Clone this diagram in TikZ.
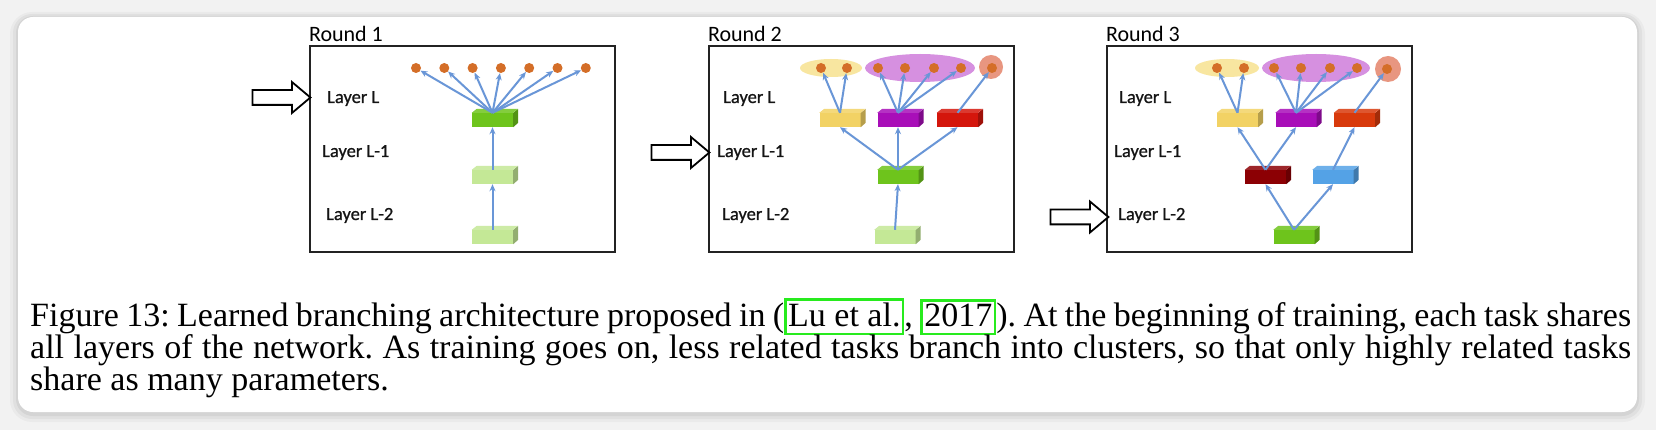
\documentclass[tikz,border=0pt]{standalone}
\usepackage{fontspec}
\setmainfont{Liberation Serif}
\newfontfamily\calib{Carlito}
\newfontfamily\calibl{Carlito}[FakeBold=0.8]
\usetikzlibrary{arrows.meta,positioning,shapes.geometric,shapes.arrows}

\definecolor{bg}{RGB}{242,242,242}
\definecolor{dotc}{RGB}{212,110,40}
\definecolor{edgec}{RGB}{105,150,215}
\definecolor{framec}{RGB}{35,35,35}
\definecolor{laytext}{RGB}{20,20,20}
\definecolor{grn}{RGB}{110,196,28}
\definecolor{lgrn}{RGB}{196,232,150}
\definecolor{ylw}{RGB}{242,210,100}
\definecolor{prp}{RGB}{168,14,184}
\definecolor{redb}{RGB}{212,22,12}
\definecolor{redc}{RGB}{216,58,12}
\definecolor{dred}{RGB}{140,0,4}
\definecolor{blu}{RGB}{84,162,230}
\definecolor{ylwg}{RGB}{248,230,160}
\definecolor{prpg}{RGB}{214,144,224}
\definecolor{salg}{RGB}{232,150,128}
\definecolor{linkg}{RGB}{40,235,30}

% side and top faces of a block node
\newcommand{\cubeface}[2]{%
\fill[#2!75!black] (#1.north east) -- ++(5,-4) -- ++(0,14) -- (#1.south east) -- cycle;
\fill[#2!85!white] (#1.north west) -- ++(5,-4) -- ++(41,0) -- (#1.north east) -- cycle;}
\newcommand{\lnk}[1]{{\color{linkg}\setlength{\fboxrule}{2.5pt}\setlength{\fboxsep}{1.5pt}\fbox{\color{black}\rule[-5pt]{0pt}{24pt}#1}}}

\begin{document}
\begin{tikzpicture}[x=1pt,y=-1pt]
\tikzstyle{dot} = [fill=dotc,shape=circle,inner sep=0pt,minimum size=10pt,node distance=28.3pt]
\tikzstyle{blk} = [shape=rectangle,inner sep=0pt,minimum width=41pt,minimum height=14pt]
\tikzstyle{edge} = [draw=edgec,line width=2pt,-{Stealth[length=7pt,width=6pt]}]
\tikzstyle{frame} = [draw=framec,line width=2.4pt,minimum width=305pt,minimum height=206pt]
\tikzstyle{group} = [shape=ellipse,inner sep=0pt]
\tikzstyle{lay} = [anchor=base west,inner sep=0pt,font=\calibl\fontsize{18.5}{20}\selectfont,text=laytext]
\tikzstyle{rlabel} = [anchor=base west,inner sep=0pt,font=\calib\fontsize{22}{24}\selectfont]
\tikzstyle{hollow} = [single arrow,draw=black,fill=white,line width=1.8pt,inner xsep=0pt,inner ysep=6.5pt,minimum height=58pt,single arrow head extend=8pt,single arrow tip angle=80]
\tikzstyle{captext} = [anchor=base west,inner sep=0pt,font=\fontsize{34}{36}\selectfont\frenchspacing]

\useasboundingbox (0,0) rectangle (1656,430);
\fill[bg] (0,0) rectangle (1656,430);
\fill[black,opacity=.03,rounded corners=22pt] (10,12) rectangle (1645,422);
\fill[black,opacity=.04,rounded corners=19pt] (13,14) rectangle (1642,419);
\fill[black,opacity=.05,rounded corners=17pt] (16,16) rectangle (1639,416);
\fill[white,rounded corners=15pt] (18,17) rectangle (1637,412);

% round 1
\node[frame] (f1) at (462.5,149) {};
\node[rlabel] (t1) at ([yshift=3pt]f1.north west) {Round 1};
\node[lay] (l11) at (327,103) {Layer L};
\node[lay] (l12) at (322,157) {Layer L-1};
\node[lay] (l13) at (326,220) {Layer L-2};
\node[hollow] (h1) at (277,97.5) {};

\node[dot] (p11) at (416,68) {};
\node[dot,right of=p11] (p12) {};
\node[dot,right of=p12] (p13) {};
\node[dot,right of=p13] (p14) {};
\node[dot,right of=p14] (p15) {};
\node[dot,right of=p15] (p16) {};
\node[dot,right of=p16] (p17) {};

\node[blk,fill=grn] (q11) at (492.5,120) {};
\cubeface{q11}{grn}
\node[blk,fill=lgrn] (q12) at (492.5,177) {};
\cubeface{q12}{lgrn}
\node[blk,fill=lgrn] (q13) at (492.5,237) {};
\cubeface{q13}{lgrn}

\draw[edge] (q11.north) -- (p11);
\draw[edge] (q11.north) -- (p12);
\draw[edge] (q11.north) -- (p13);
\draw[edge] (q11.north) -- (p14);
\draw[edge] (q11.north) -- (p15);
\draw[edge] (q11.north) -- (p16);
\draw[edge] (q11.north) -- (p17);
\draw[edge] (q12.north) -- (q11.south);
\draw[edge] (q13.north) -- (q12.south);

% round 2
\node[frame] (f2) at (861.5,149) {};
\node[rlabel] (t2) at ([yshift=3pt]f2.north west) {Round 2};
\node[lay] (l21) at (723,103) {Layer L};
\node[lay] (l22) at (717,157) {Layer L-1};
\node[lay] (l23) at (722,220) {Layer L-2};
\node[hollow] (h2) at (676,152.5) {};

\node[group,fill=ylwg,minimum width=62pt,minimum height=18pt] (g21) at (831,68) {};
\node[group,fill=prpg,minimum width=110pt,minimum height=28pt] (g22) at (920,68) {};
\node[group,fill=salg,minimum width=24pt,minimum height=24pt] (g23) at (991,67) {};

\node[dot] (p21) at (821,68) {};
\node[dot] (p22) at (847,68) {};
\node[dot] (p23) at (878,68) {};
\node[dot] (p24) at (905,68) {};
\node[dot] (p25) at (934,68) {};
\node[dot] (p26) at (961,68) {};
\node[dot] (p27) at (992,68) {};

\node[blk,fill=ylw] (q21) at (840,120) {};
\cubeface{q21}{ylw}
\node[blk,fill=prp] (q22) at (898,120) {};
\cubeface{q22}{prp}
\node[blk,fill=redb] (q23) at (957.5,120) {};
\cubeface{q23}{redb}
\node[blk,fill=grn] (q24) at (898,177) {};
\cubeface{q24}{grn}
\node[blk,fill=lgrn] (q25) at (895,237) {};
\cubeface{q25}{lgrn}

\draw[edge] (q21.north) -- (p21);
\draw[edge] (q21.north) -- (p22);
\draw[edge] (q22.north) -- (p23);
\draw[edge] (q22.north) -- (p24);
\draw[edge] (q22.north) -- (p25);
\draw[edge] (q22.north) -- (p26);
\draw[edge] (q23.north) -- (p27);
\draw[edge] (q24.north) -- (q21.south);
\draw[edge] (q24.north) -- (q22.south);
\draw[edge] (q24.north) -- (q23.south);
\draw[edge] (q25.north) -- (q24.south);

% round 3
\node[frame] (f3) at (1259.5,149) {};
\node[rlabel] (t3) at ([yshift=3pt]f3.north west) {Round 3};
\node[lay] (l31) at (1119,103) {Layer L};
\node[lay] (l32) at (1114,157) {Layer L-1};
\node[lay] (l33) at (1118,220) {Layer L-2};
\node[hollow] (h3) at (1075,217) {};

\node[group,fill=ylwg,minimum width=64pt,minimum height=18pt] (g31) at (1227,68) {};
\node[group,fill=prpg,minimum width=108pt,minimum height=28pt] (g32) at (1316,68) {};
\node[group,fill=salg,minimum width=26pt,minimum height=26pt] (g33) at (1388,69) {};

\node[dot] (p31) at (1217,68) {};
\node[dot] (p32) at (1244,68) {};
\node[dot] (p33) at (1274,68) {};
\node[dot] (p34) at (1301,68) {};
\node[dot] (p35) at (1330,68) {};
\node[dot] (p36) at (1357,68) {};
\node[dot] (p37) at (1387,69) {};

\node[blk,fill=ylw] (q31) at (1237.5,120) {};
\cubeface{q31}{ylw}
\node[blk,fill=prp] (q32) at (1296,120) {};
\cubeface{q32}{prp}
\node[blk,fill=redc] (q33) at (1354.5,120) {};
\cubeface{q33}{redc}
\node[blk,fill=dred] (q34) at (1265.5,177) {};
\cubeface{q34}{dred}
\node[blk,fill=blu] (q35) at (1333,177) {};
\cubeface{q35}{blu}
\node[blk,fill=grn] (q36) at (1294,237) {};
\cubeface{q36}{grn}

\draw[edge] (q31.north) -- (p31);
\draw[edge] (q31.north) -- (p32);
\draw[edge] (q32.north) -- (p33);
\draw[edge] (q32.north) -- (p34);
\draw[edge] (q32.north) -- (p35);
\draw[edge] (q32.north) -- (p36);
\draw[edge] (q33.north) -- (p37);
\draw[edge] (q34.north) -- (q31.south);
\draw[edge] (q34.north) -- (q32.south);
\draw[edge] (q35.north) -- (q33.south);
\draw[edge] (q36.north) -- (q34.south);
\draw[edge] (q36.north) -- (q35.south);

% caption
\node[captext] (c1) at (30,326) {\makebox[1601pt][s]{Figure 13: Learned branching architecture proposed in (\lnk{Lu et al.}, \lnk{2017}). At the beginning of training, each task shares}};
\node[captext] (c2) at (30,358) {\makebox[1601pt][s]{all layers of the network. As training goes on, less related tasks branch into clusters, so that only highly related tasks}};
\node[captext] (c3) at (30,390) {share as many parameters.};
\end{tikzpicture}
\end{document}
